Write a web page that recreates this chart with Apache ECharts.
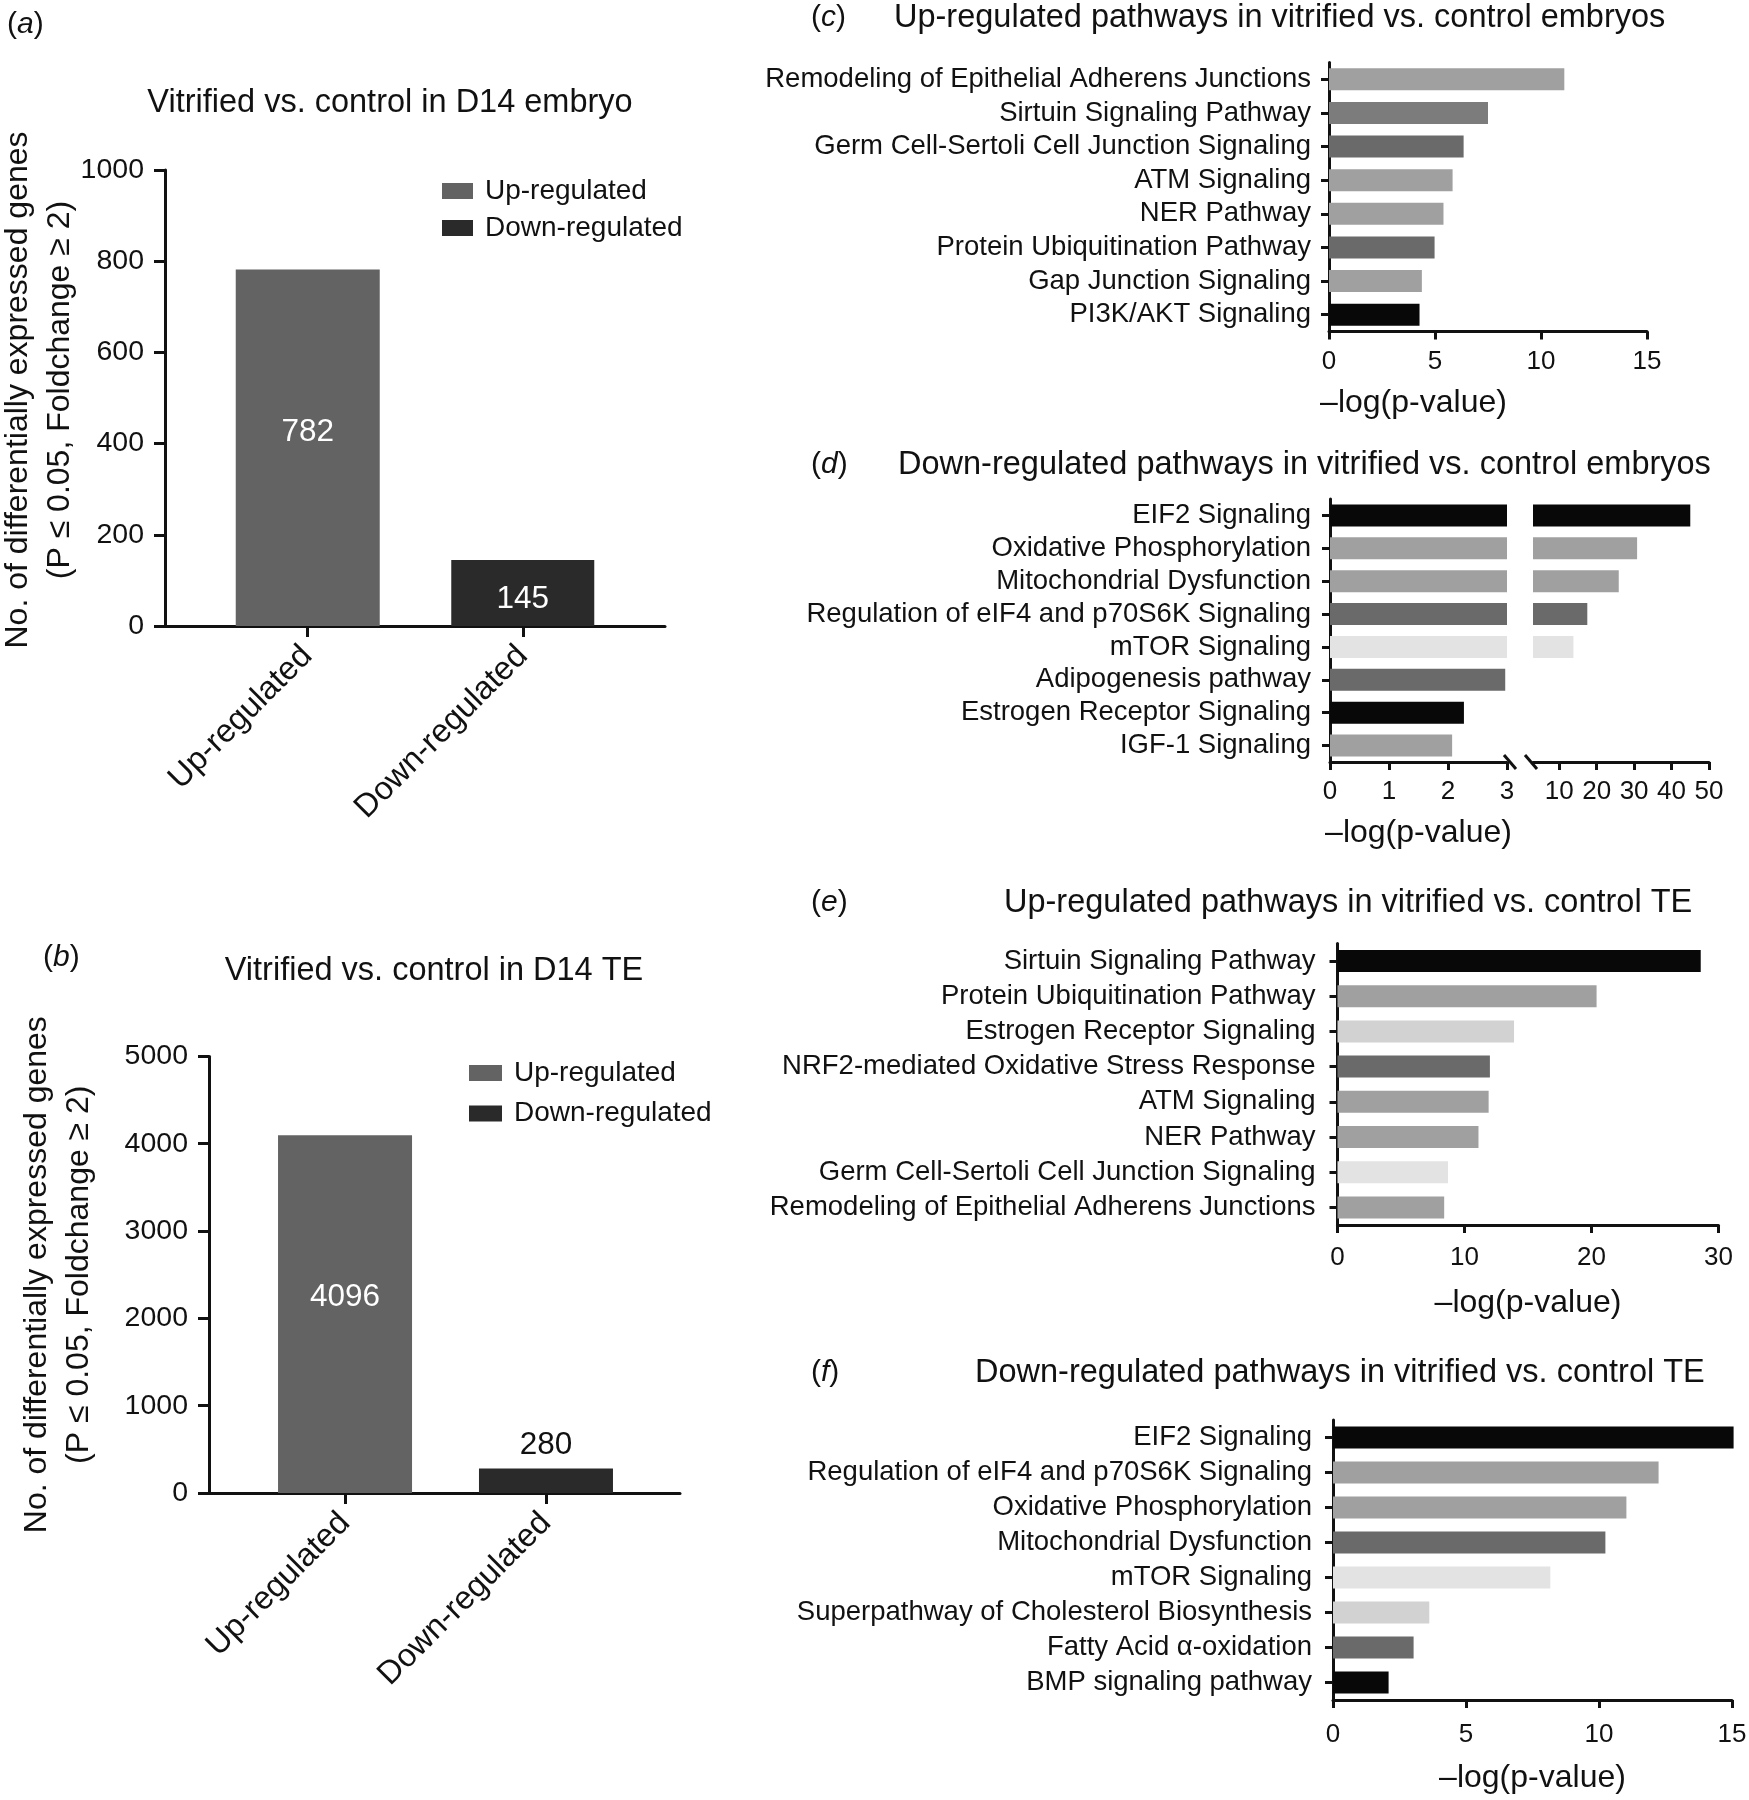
<!DOCTYPE html>
<html>
<head>
<meta charset="utf-8">
<title>Vitrified vs. control D14 embryo / TE</title>
<script src="https://cdn.jsdelivr.net/npm/echarts@6/dist/echarts.min.js"></script>
<style>
  html, body { margin: 0; padding: 0; background: #fff; }
  #main { width: 1749px; height: 1800px; }
</style>
</head>
<body>
<div id="main"></div>
<script>
// (a), (b) number of DEGs
const groups = ['Up-regulated', 'Down-regulated'];
const embryoCounts = [782, 145];
const teCounts = [4096, 280];

// (c) up-regulated pathways, embryos
const upEmbryoPaths = ['Remodeling of Epithelial Adherens Junctions', 'Sirtuin Signaling Pathway',
  'Germ Cell-Sertoli Cell Junction Signaling', 'ATM Signaling', 'NER Pathway',
  'Protein Ubiquitination Pathway', 'Gap Junction Signaling', 'PI3K/AKT Signaling'];
const upEmbryoLogP = [11.1, 7.5, 6.35, 5.83, 5.4, 4.98, 4.38, 4.27];

// (d) down-regulated pathways, embryos (broken axis 0-3 | 3-50)
const downEmbryoPaths = ['EIF2 Signaling', 'Oxidative Phosphorylation', 'Mitochondrial Dysfunction',
  'Regulation of eIF4 and p70S6K Signaling', 'mTOR Signaling', 'Adipogenesis pathway',
  'Estrogen Receptor Signaling', 'IGF-1 Signaling'];
const downEmbryoLogP = [45.0, 30.8, 25.9, 17.5, 13.8, 2.97, 2.27, 2.07];

// (e) up-regulated pathways, TE
const upTePaths = ['Sirtuin Signaling Pathway', 'Protein Ubiquitination Pathway', 'Estrogen Receptor Signaling',
  'NRF2-mediated Oxidative Stress Response', 'ATM Signaling', 'NER Pathway',
  'Germ Cell-Sertoli Cell Junction Signaling', 'Remodeling of Epithelial Adherens Junctions'];
const upTeLogP = [28.6, 20.4, 13.9, 12.0, 11.9, 11.1, 8.7, 8.4];

// (f) down-regulated pathways, TE
const downTePaths = ['EIF2 Signaling', 'Regulation of eIF4 and p70S6K Signaling', 'Oxidative Phosphorylation',
  'Mitochondrial Dysfunction', 'mTOR Signaling', 'Superpathway of Cholesterol Biosynthesis',
  'Fatty Acid \u03b1-oxidation', 'BMP signaling pathway'];
const downTeLogP = [15.06, 12.24, 11.03, 10.24, 8.17, 3.62, 3.03, 2.09];

// bar shades
const BLACK = '#080808', DARK = '#6a6a6a', MID = '#7c7c7c', GREY = '#a0a0a0', LIGHT = '#d2d2d2', PALE = '#e3e3e3';
const shadesC = [GREY, MID, DARK, GREY, GREY, DARK, GREY, BLACK];
const shadesD = [BLACK, GREY, GREY, DARK, PALE, DARK, BLACK, GREY];
const shadesE = [BLACK, GREY, LIGHT, DARK, GREY, GREY, PALE, GREY];
const shadesF = [BLACK, GREY, GREY, DARK, PALE, LIGHT, DARK, BLACK];
const UP = '#636363', DOWN = '#2a2a2a';

const FONT = '"Liberation Sans", Arial, Helvetica, sans-serif';
const INK = '#111';
const plain = function (v) { return String(v); };

function letter(l, x, y) {
  return {
    text: '{n|(}{i|' + l + '}{n|)}', left: x, top: y, padding: 0,
    textStyle: { fontWeight: 'normal', rich: {
      n: { fontSize: 30, fontFamily: FONT, color: INK, fontWeight: 'normal' },
      i: { fontSize: 30, fontFamily: FONT, color: INK, fontWeight: 'normal', fontStyle: 'italic' }
    } }
  };
}
function heading(text, x, y, align) {
  return {
    text: text, left: x, top: y, padding: 0, textAlign: align || 'left',
    textStyle: { fontSize: 32.5, fontWeight: 'normal', fontFamily: FONT, color: INK }
  };
}
function box(left, top, width, height) {
  return { left: left, top: top, width: width, height: height, containLabel: false, outerBoundsMode: 'none' };
}

// gene count panels
function groupAxis(gi, min, max) {
  return {
    type: 'value', gridIndex: gi, min: min, max: max,
    axisLine: { show: true, onZero: false, lineStyle: { color: INK, width: 3 } },
    axisTick: { show: true, customValues: [0, 1], length: 11, lineStyle: { color: INK, width: 3 } },
    axisLabel: { customValues: [0, 1], rotate: 45, margin: 25, fontSize: 32.5, color: INK,
      formatter: function (v) { return groups[Math.round(v)]; } },
    splitLine: { show: false }
  };
}
function countAxis(gi, max, interval, nameGap, pad) {
  return {
    type: 'value', gridIndex: gi, min: 0, max: max, interval: interval,
    name: 'No. of differentially expressed genes\n(P \u2264 0.05, Foldchange \u2265 2)',
    nameLocation: 'middle', nameRotate: 90, nameGap: nameGap, nameMoveOverlap: false,
    nameTextStyle: { fontSize: 32, lineHeight: 42, color: INK, padding: pad },
    axisLine: { show: true, onZero: false, lineStyle: { color: INK, width: 3 } },
    axisTick: { show: true, length: 11, lineStyle: { color: INK, width: 3 } },
    axisLabel: { fontSize: 28.5, margin: 21, color: INK, formatter: plain },
    splitLine: { show: false }
  };
}
function countBar(gi, idx, counts, width, label) {
  return {
    name: groups[idx], type: 'bar', xAxisIndex: gi, yAxisIndex: gi,
    barWidth: width, barGap: '-100%',
    itemStyle: { color: idx === 0 ? UP : DOWN },
    label: Object.assign({ show: true, fontSize: 31.5, fontFamily: FONT }, label),
    data: [[idx, counts[idx]]]
  };
}

// pathway panels
function pathAxis(gi, labels, margin, visible) {
  return {
    type: 'category', gridIndex: gi, data: labels, inverse: true, show: visible !== false,
    axisLine: { show: true, onZero: false, lineStyle: { color: INK, width: 3 } },
    axisTick: { show: true, alignWithLabel: true, length: 8, lineStyle: { color: INK, width: 3 } },
    axisLabel: { interval: 0, fontSize: 27.5, margin: margin, color: INK }
  };
}
function logAxis(gi, min, max, interval, labelMargin, nameGap, named, extra) {
  const ax = {
    type: 'value', gridIndex: gi, min: min, max: max, interval: interval,
    axisLine: { show: true, onZero: false, lineStyle: { color: INK, width: 3 } },
    axisTick: { show: true, length: 8, lineStyle: { color: INK, width: 3 } },
    axisLabel: { fontSize: 26, margin: labelMargin, color: INK, formatter: plain },
    splitLine: { show: false }
  };
  if (named) {
    ax.name = '\u2013log(p-value)';
    ax.nameLocation = 'middle';
    ax.nameGap = nameGap;
    ax.nameMoveOverlap = false;
    ax.nameTextStyle = { fontSize: 32, color: INK };
  }
  return Object.assign(ax, extra || {});
}
function pathBar(gi, values, shades) {
  return {
    type: 'bar', xAxisIndex: gi, yAxisIndex: gi, barWidth: 22,
    data: values.map(function (v, i) { return { value: v, itemStyle: { color: shades[i] } }; })
  };
}

const legendStyle = {
  data: groups, orient: 'vertical', padding: 0, itemHeight: 16, icon: 'rect', selectedMode: false,
  textStyle: { fontSize: 28, lineHeight: 28, color: INK, fontFamily: FONT, padding: [0, 0, 0, 7] }
};

const option = {
  animation: false,
  backgroundColor: '#fff',
  textStyle: { fontFamily: FONT, color: INK },
  title: [
    letter('a', 7, 10),
    heading('Vitrified vs. control in D14 embryo', 390, 87, 'center'),
    letter('b', 43, 943),
    heading('Vitrified vs. control in D14 TE', 434, 955, 'center'),
    letter('c', 811, 3),
    heading('Up-regulated pathways in vitrified vs. control embryos', 894, 2),
    letter('d', 811, 450),
    heading('Down-regulated pathways in vitrified vs. control embryos', 898, 449),
    letter('e', 811, 888),
    heading('Up-regulated pathways in vitrified vs. control TE', 1004, 887),
    letter('f', 811, 1358),
    heading('Down-regulated pathways in vitrified vs. control TE', 975, 1357)
  ],
  legend: [
    Object.assign({}, legendStyle, { left: 442, top: 177, itemWidth: 31, itemGap: 9 }),
    Object.assign({}, legendStyle, { left: 469, top: 1059, itemWidth: 33, itemGap: 12.6 })
  ],
  grid: [
    box(165, 170, 500, 456),       // a
    box(209, 1056.4, 471, 436.6),  // b
    box(1329, 62.5, 318, 269),     // c
    box(1330, 499, 177, 263),      // d, 0-3
    box(1533, 499, 176, 263),      // d, 3-50
    box(1337.5, 943.4, 381, 281.6),// e
    box(1333, 1420, 399, 280)      // f
  ],
  xAxis: [
    groupAxis(0, -0.66, 1.66),
    groupAxis(1, -0.677, 1.667),
    logAxis(2, 0, 15, 5, 17, 55.5, true, { nameTextStyle: { fontSize: 32, color: INK, padding: [0, 149, 0, 0] } }),
    logAxis(3, 0, 3, 1, 17, 55, true),
    logAxis(4, 3, 50, null, 17, 0, false, {
      axisTick: { show: true, length: 8, customValues: [10, 20, 30, 40, 50], lineStyle: { color: INK, width: 3 } },
      axisLabel: { fontSize: 26, margin: 17, color: INK, customValues: [10, 20, 30, 40, 50], formatter: plain }
    }),
    logAxis(5, 0, 30, 10, 20, 62, true),
    logAxis(6, 0, 15, 5, 22, 62, true)
  ],
  yAxis: [
    countAxis(0, 1000, 200, 84, [0, 0, 0, 16]),
    countAxis(1, 5000, 1000, 109, 0),
    pathAxis(2, upEmbryoPaths, 18),
    pathAxis(3, downEmbryoPaths, 19),
    pathAxis(4, downEmbryoPaths, 19, false),
    pathAxis(5, upTePaths, 22),
    pathAxis(6, downTePaths, 21)
  ],
  series: [
    countBar(0, 0, embryoCounts, 144, { position: 'inside', color: '#fff', offset: [0, -15] }),
    countBar(0, 1, embryoCounts, 143, { position: 'inside', color: '#fff', offset: [0, 6] }),
    countBar(1, 0, teCounts, 134, { position: 'inside', color: '#fff', offset: [0, -17] }),
    countBar(1, 1, teCounts, 134, { position: 'top', distance: 7, color: INK }),
    pathBar(2, upEmbryoLogP, shadesC),
    pathBar(3, downEmbryoLogP, shadesD),
    pathBar(4, downEmbryoLogP, shadesD),
    pathBar(5, upTeLogP, shadesE),
    Object.assign(pathBar(6, downTeLogP, shadesF), { clip: false })
  ],
  // axis-break marks for panel d
  graphic: [
    { type: 'line', shape: { x1: 1504, y1: 755, x2: 1516, y2: 769 }, style: { stroke: INK, lineWidth: 3 } },
    { type: 'line', shape: { x1: 1525, y1: 755, x2: 1537, y2: 769 }, style: { stroke: INK, lineWidth: 3 } }
  ]
};

const chart = echarts.init(document.getElementById('main'), null, { renderer: 'canvas' });
chart.setOption(option);
window.addEventListener('resize', function () { chart.resize(); });
</script>
</body>
</html>
